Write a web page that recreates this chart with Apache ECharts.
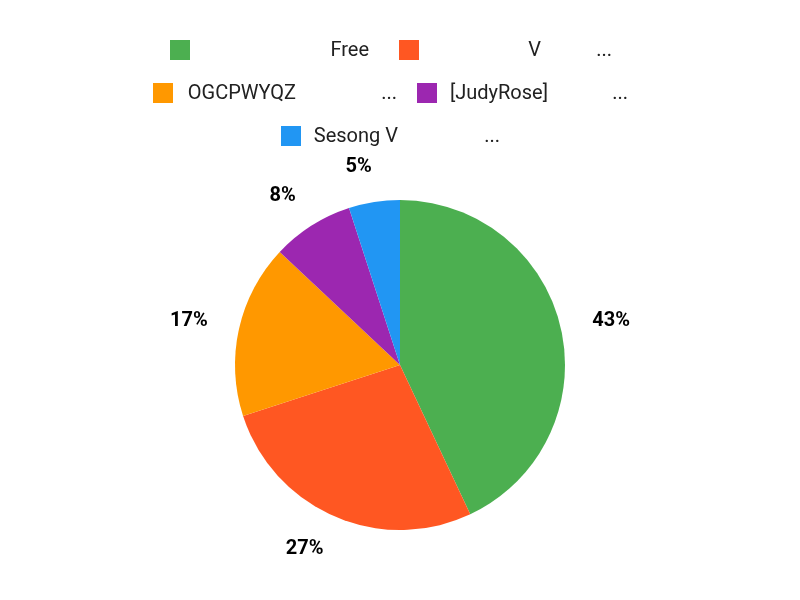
<!DOCTYPE html>
<html>
<head>
<meta charset="utf-8">
<script src="https://cdn.jsdelivr.net/npm/echarts@6/dist/echarts.min.js"></script>
<style>html,body{margin:0;padding:0;background:#fff;}#c{width:800px;height:600px;}</style>
</head>
<body>
<div id="c"></div>
<script>
const names = ['Free', 'V', 'OGCPWYQZ', '[JudyRose]', 'Sesong V'];
const values = [43, 27, 17, 8, 5];
const truncated = [false, true, true, true, true];
const colors = ['#4CAF50', '#FF5722', '#FF9800', '#9C27B0', '#2196F3'];

// legend text layout (box widths in px)
const nameBoxW = [174, 117, 118, 106, 92];
const tailBoxW = [0, 71, 101, 80, 102];

const rich = {};
names.forEach((n, i) => {
  rich['n' + i] = { width: nameBoxW[i], align: 'right', fontSize: 20, lineHeight: 20, padding: [2, 0, 0, 0], color: '#212121', fontFamily: 'Roboto' };
  rich['e' + i] = { width: tailBoxW[i], align: 'right', fontSize: 20, lineHeight: 20, padding: [2, 0, 0, 0], color: '#212121', fontFamily: 'Roboto' };
});

function fmt(name) {
  const i = names.indexOf(name);
  if (!truncated[i]) return '{n' + i + '|' + name + '}';
  return '{n' + i + '|' + name + '}{e' + i + '|...}';
}

function legendRow(items, left, top, gap) {
  return {
    data: items, left: left, top: top, padding: 0, itemGap: gap,
    itemWidth: 20, itemHeight: 20, icon: 'rect', itemStyle: { borderWidth: 0 },
    formatter: fmt, selectedMode: false,
    textStyle: { fontSize: 20, fontFamily: 'Roboto', color: '#212121', rich: rich }
  };
}

const chart = echarts.init(document.getElementById('c'));
chart.setOption({
  animation: false,
  color: colors,
  legend: [
    legendRow([names[0], names[1]], 170, 39, 30),
    legendRow([names[2], names[3]], 153, 82, 20),
    legendRow([names[4]], 281, 125, 10)
  ],
  series: [{
    type: 'pie',
    center: [400, 365],
    radius: 165,
    startAngle: 90,
    clockwise: true,
    avoidLabelOverlap: false,
    data: names.map((n, i) => ({ name: n, value: values[i] })),
    label: {
      show: true, position: 'outside', formatter: '{d}%',
      fontSize: 20, fontWeight: 'bold', fontFamily: 'Roboto', color: '#000',
      distanceToLabelLine: -3
    },
    labelLine: { show: false, length: 35, length2: 0 },
    emphasis: { disabled: true }
  }]
});
</script>
</body>
</html>
